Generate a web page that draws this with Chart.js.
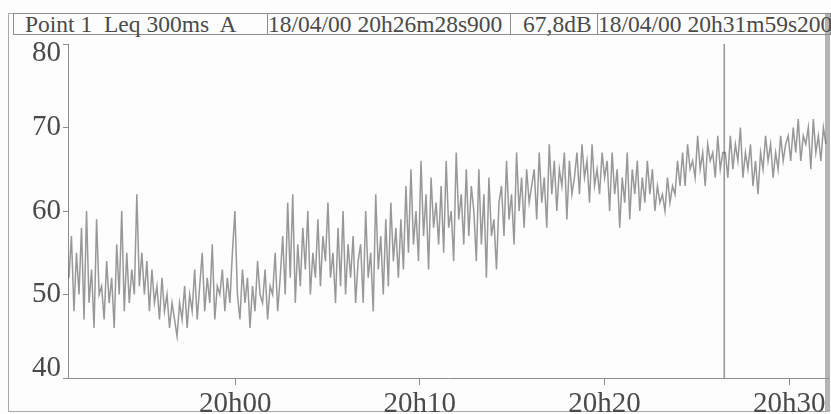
<!DOCTYPE html>
<html>
<head>
<meta charset="utf-8">
<script src="https://cdn.jsdelivr.net/npm/chart.js@4/dist/chart.umd.min.js"></script>
<style>
  html, body { margin: 0; padding: 0; background: #fdfdfd; }
  #wrap { position: relative; width: 831px; height: 414px; overflow: hidden; background: #fdfdfd; }
  #frame { position: absolute; left: 8px; top: 13px; width: 822px; height: 399px; border: 1px solid #a8a8a8; box-sizing: border-box; border-right: 5px solid #b4b4b4; }
  #header { position: absolute; left: 13px; top: 13px; width: 818px; height: 22px; border: 1px solid #8c8c8c; box-sizing: border-box; }
  .cell { position: absolute; top: 13px; height: 22px; box-sizing: border-box; border-left: 1px solid #8c8c8c; }
  .htxt { position: absolute; top: 11px; font-family: "Liberation Serif", "DejaVu Serif", serif; font-size: 23.5px; color: #4a4a4a; white-space: pre; line-height: 26px; }
  canvas { position: absolute; left: 0; top: 0; }
</style>
</head>
<body>
<div id="wrap">
  <div id="frame"></div>
  <div id="header"></div>
  <div class="cell" style="left:267px;"></div>
  <div class="cell" style="left:510px;"></div>
  <div class="cell" style="left:597px;"></div>
  <div class="htxt" id="h1" style="left:25px;"></div>
  <div class="htxt" id="h2" style="left:268px;"></div>
  <div class="htxt" id="h3" style="left:523px;"></div>
  <div class="htxt" id="h4" style="left:598px;"></div>
  <canvas id="c" width="831" height="414"></canvas>
</div>
<script>
// ---- header texts ----
const headerTexts = ['Point 1  Leq 300ms  A', '18/04/00 20h26m28s900', '67,8dB', '18/04/00 20h31m59s200'];

// ---- time axis (minutes relative to 20h00) ----
const startMinute = -9.0;          // 19h51m00
const endMinute = 31.987;          // 20h31m59s200
const cursorMinute = 26.482;       // 20h26m28s900
const xTickMinutes = [0, 10, 20, 30];
const xTickLabels = ['20h00', '20h10', '20h20', '20h30'];

// ---- level axis ----
const yTickValues = [40, 50, 60, 70, 80];

// ---- Leq 300ms A levels (dB) ----
const levels = [
  52,57,48,55,50,58,47,60,49,53,46,59,50,
  51,47,54,49,52,46,56,50,60,48,55,49,53,50,62,51,
  55,50,54,48,53,49,51,47,52,48,50,46,49,47,
  45,49,47,51,46,50,48,53,47,51,
  55,48,52,49,56,47,51,50,53,48,52,49,55,60,
  50,47,53,49,52,46,51,48,54,50,49,53,47,51,50,55,48,52,
  57,50,61,52,62,49,56,51,58,53,60,50,55,52,59,51,57,54,61,52,
  55,49,58,51,60,50,56,52,57,49,54,
  56,49,60,52,55,48,62,53,57,50,59,51,61,54,58,52,
  59,53,63,55,65,56,60,54,66,57,62,53,64,58,61,56,
  63,55,66,58,60,54,67,59,62,56,65,57,63,
  60,54,65,56,62,52,64,57,59,53,61,
  63,57,66,59,62,56,67,60,64,58,65,61,63,
  65,59,67,61,64,58,68,62,66,60,65,63,67,59,66,62,64,
  67,62,68,64,66,61,68,63,65,62,67,64,
  66,60,67,62,65,58,64,61,67,59,65,62,66,60,
  64,61,66,62,65,60,63,61,62,60,64,61,63,62,66,63,
  67,63,68,65,66,64,69,65,67,63,68,66,67,64,69,65,67,
  67,64,69,65,68,66,70,64,67,65,68,63,66,62,67,65,69,66,68,64,67,65,69,66,68,
  69,66,70,67,71,66,69,68,70,65,71,67,69,66,70,68
];

headerTexts.forEach((t, i) => { document.getElementById('h' + (i + 1)).textContent = t; });

const step = (endMinute - startMinute) / (levels.length - 1);
const tracePoints = levels.map((v, i) => ({ x: startMinute + i * step, y: v }));
const cursorPoints = [{ x: cursorMinute, y: yTickValues[0] }, { x: cursorMinute, y: yTickValues[yTickValues.length - 1] }];

const axisFont = { family: '"Liberation Serif", "DejaVu Serif", serif', size: 29, lineHeight: 0.68 };
const textColor = '#4a4a4a';
const lineGray = '#8c8c8c';

new Chart(document.getElementById('c'), {
  type: 'line',
  data: {
    datasets: [
      { data: tracePoints, borderColor: 'rgba(85,85,85,0.6)', borderWidth: 1.5, pointRadius: 0, tension: 0 },
      { data: cursorPoints, borderColor: '#9a9a9a', borderWidth: 1.6, pointRadius: 0 }
    ]
  },
  options: {
    responsive: false,
    animation: false,
    layout: { padding: { top: 44, right: 3, left: 0, bottom: 0 } },
    plugins: { legend: { display: false }, tooltip: { enabled: false } },
    scales: {
      x: {
        type: 'linear',
        min: -9.05,
        max: 32.1,
        afterBuildTicks: (s) => { s.ticks = xTickMinutes.map(v => ({ value: v })); },
        afterFit: (s) => { s.height = 36; s.paddingLeft = 0; s.paddingRight = 0; },
        grid: { display: true, drawOnChartArea: false, drawTicks: true, tickLength: 7, color: lineGray },
        border: { display: true, color: lineGray, width: 1 },
        ticks: {
          color: textColor,
          font: axisFont,
          padding: 10,
          maxRotation: 0,
          autoSkip: false,
          callback: (v) => xTickLabels[xTickMinutes.indexOf(v)]
        }
      },
      y: {
        min: 40,
        max: 80,
        afterBuildTicks: (s) => { s.ticks = yTickValues.map(v => ({ value: v })); },
        afterFit: (s) => { s.width = 68; s.paddingTop = 0; s.paddingBottom = 0; },
        grid: { display: true, drawOnChartArea: false, drawTicks: true, tickLength: 5, color: lineGray },
        border: { display: true, color: lineGray, width: 1 },
        ticks: {
          color: textColor,
          font: axisFont,
          padding: 2,
          callback: (v) => {
            if (v === yTickValues[yTickValues.length - 1]) return ['', String(v)];
            if (v === yTickValues[0]) return [String(v), ''];
            return String(v);
          }
        }
      }
    }
  }
});
</script>
</body>
</html>
